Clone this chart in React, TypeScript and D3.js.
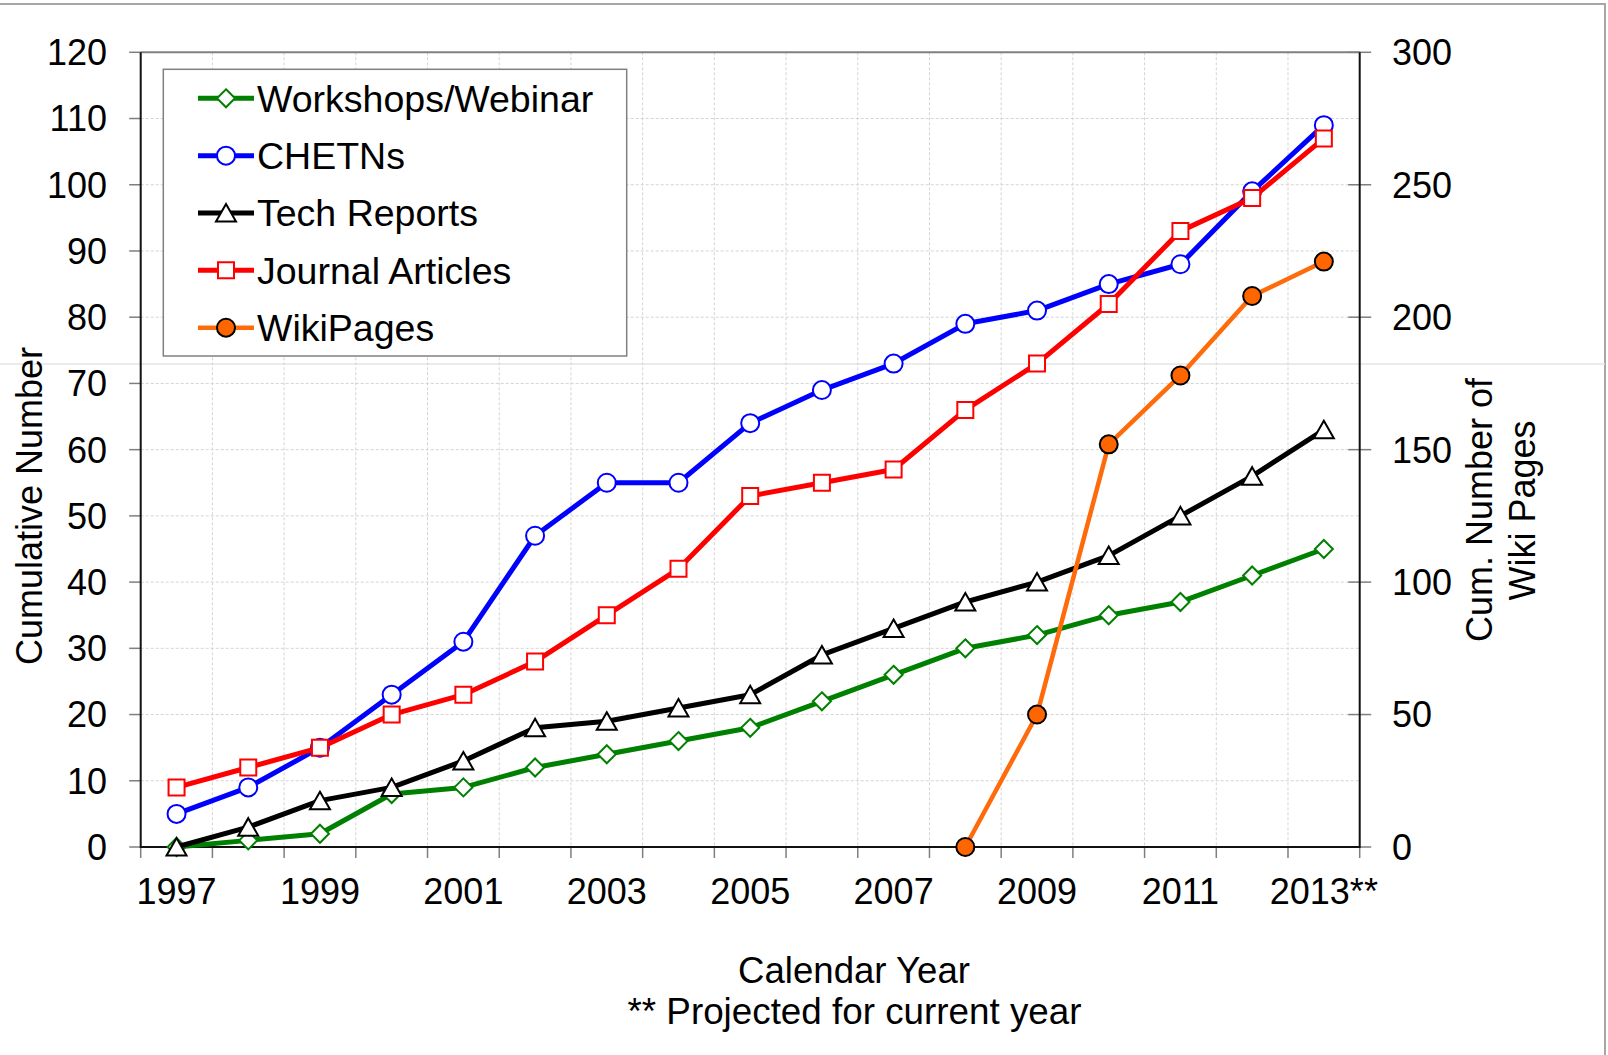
import React, { useEffect, useRef } from 'react';
import * as d3 from 'd3';

// categories (calendar years)
const years = ['1997', '1998', '1999', '2000', '2001', '2002', '2003', '2004', '2005',
  '2006', '2007', '2008', '2009', '2010', '2011', '2012', '2013'];
const labelYears = ['1997', '1999', '2001', '2003', '2005', '2007', '2009', '2011', '2013'];
const labelTexts = ['1997', '1999', '2001', '2003', '2005', '2007', '2009', '2011', '2013**'];

// left axis series
const workshops = [0, 1, 2, 8, 9, 12, 14, 16, 18, 22, 26, 30, 32, 35, 37, 41, 45];
const chetns = [5, 9, 15, 23, 31, 47, 55, 55, 64, 69, 73, 79, 81, 85, 88, 99, 109];
const techReports = [0, 3, 7, 9, 13, 18, 19, 21, 23, 29, 33, 37, 40, 44, 50, 56, 63];
const journalArticles = [9, 12, 15, 20, 23, 28, 35, 42, 53, 55, 57, 66, 73, 82, 93, 98, 107];

// right axis series
const wikiYears = ['2008', '2009', '2010', '2011', '2012', '2013'];
const wikiPages = [0, 50, 152, 178, 208, 221];

const leftTicks = [0, 10, 20, 30, 40, 50, 60, 70, 80, 90, 100, 110, 120];
const rightTicks = [0, 50, 100, 150, 200, 250, 300];

const FONT = '"Liberation Sans", Arial, sans-serif';

const App = () => {
  const ref = useRef(null);

  useEffect(() => {
    const svg = d3.select(ref.current);
    svg.selectAll('*').remove();

    const left = 140.7, right = 1359.7, top = 52.3, bottom = 847;

    const x = d3.scaleBand().domain(years).range([left, right]).padding(0);
    const cx = (d) => x(d) + x.bandwidth() / 2;
    const y = d3.scaleLinear().domain([0, 120]).range([bottom, top]);
    const y2 = d3.scaleLinear().domain([0, 300]).range([bottom, top]);

    svg.append('rect').attr('width', 1608).attr('height', 1055).attr('fill', '#fff');

    // slide frame
    svg.append('path').attr('d', 'M0,4 H1605 V1055')
      .attr('fill', 'none').attr('stroke', '#a6a6a6').attr('stroke-width', 2);
    svg.append('line').attr('x1', 0).attr('x2', 1605).attr('y1', 364).attr('y2', 364)
      .attr('stroke', '#e4e4e4').attr('stroke-width', 1.5);

    // grid
    const grid = svg.append('g').attr('stroke', '#d4d4d4').attr('stroke-width', 1)
      .attr('stroke-dasharray', '3,2');
    leftTicks.slice(1, -1).forEach(t => {
      grid.append('line').attr('x1', left).attr('x2', right).attr('y1', y(t)).attr('y2', y(t));
    });
    years.slice(1).forEach(yr => {
      grid.append('line').attr('x1', x(yr)).attr('x2', x(yr)).attr('y1', top).attr('y2', bottom);
    });

    // ticks
    const ticks = svg.append('g').attr('stroke', '#7f7f7f').attr('stroke-width', 1.5);
    leftTicks.forEach(t => {
      ticks.append('line').attr('x1', left - 11.5).attr('x2', left).attr('y1', y(t)).attr('y2', y(t));
    });
    rightTicks.forEach(t => {
      ticks.append('line').attr('x1', t === 0 ? right : right - 11.5).attr('x2', right + 11.5)
        .attr('y1', y2(t)).attr('y2', y2(t));
    });
    [...years.map(d => x(d)), right].forEach(px => {
      ticks.append('line').attr('x1', px).attr('x2', px).attr('y1', bottom).attr('y2', bottom + 11);
    });

    // plot border
    svg.append('line').attr('x1', left).attr('x2', right).attr('y1', top).attr('y2', top)
      .attr('stroke', '#808080').attr('stroke-width', 2);
    svg.append('path').attr('d', `M${left},${top} V${bottom} H${right} V${top}`)
      .attr('fill', 'none').attr('stroke', '#111').attr('stroke-width', 2);

    // tick labels
    const txt = svg.append('g').attr('font-family', FONT).attr('font-size', 36).attr('fill', '#000');
    leftTicks.forEach(t => {
      txt.append('text').attr('x', 107).attr('y', y(t) + 12.9).attr('text-anchor', 'end').text(t);
    });
    rightTicks.forEach(t => {
      txt.append('text').attr('x', 1392).attr('y', y2(t) + 12.9).text(t);
    });
    labelYears.forEach((yr, i) => {
      txt.append('text').attr('x', cx(yr)).attr('y', 904).attr('text-anchor', 'middle').text(labelTexts[i]);
    });

    // axis titles
    txt.append('text').attr('transform', 'translate(41.5,506) rotate(-90)')
      .attr('text-anchor', 'middle').text('Cumulative Number');
    txt.append('text').attr('transform', 'translate(1491.5,510) rotate(-90)')
      .attr('text-anchor', 'middle').text('Cum. Number of');
    txt.append('text').attr('transform', 'translate(1535,510.5) rotate(-90)')
      .attr('text-anchor', 'middle').text('Wiki Pages');
    txt.append('text').attr('x', 854).attr('y', 983).attr('text-anchor', 'middle')
      .attr('font-size', 36.6).text('Calendar Year');
    txt.append('text').attr('x', 854.5).attr('y', 1024).attr('text-anchor', 'middle')
      .attr('font-size', 36.8).text('** Projected for current year');

    // markers
    const shapes = {
      diamond: 'M0,-9L9,0L0,9L-9,0Z',
      triangle: 'M0,-9L10,8.5L-10,8.5Z',
      square: 'M-8,-8H8V8H-8Z',
      circle: d3.symbol(d3.symbolCircle, Math.PI * 81)(),
    };

    const series = [
      { name: 'Workshops/Webinar', cats: years, vals: workshops, sc: y, color: '#008000', fill: '#fff', mstroke: '#008000', shape: 'diamond', w: 5 },
      { name: 'CHETNs', cats: years, vals: chetns, sc: y, color: '#0000ff', fill: '#fff', mstroke: '#0000ff', shape: 'circle', w: 5 },
      { name: 'Tech Reports', cats: years, vals: techReports, sc: y, color: '#000', fill: '#fff', mstroke: '#000', shape: 'triangle', w: 5 },
      { name: 'Journal Articles', cats: years, vals: journalArticles, sc: y, color: '#ff0000', fill: '#fff', mstroke: '#ff0000', shape: 'square', w: 5 },
      { name: 'WikiPages', cats: wikiYears, vals: wikiPages, sc: y2, color: '#ff6a0a', fill: '#ff6600', mstroke: '#000', shape: 'circle', w: 4.5 },
    ];

    const line = d3.line().x(d => d[0]).y(d => d[1]);

    series.forEach(s => {
      const pts = s.cats.map((c, i) => [cx(c), s.sc(s.vals[i])]);
      const g = svg.append('g');
      g.append('path').attr('d', line(pts)).attr('fill', 'none').attr('stroke', s.color)
        .attr('stroke-width', s.w).attr('stroke-linejoin', 'round');
      pts.forEach(p => {
        g.append('path').attr('d', shapes[s.shape]).attr('transform', `translate(${p[0]},${p[1]})`)
          .attr('fill', s.fill).attr('stroke', s.mstroke).attr('stroke-width', 2);
      });
    });

    // legend
    const lg = svg.append('g');
    lg.append('rect').attr('x', 163.3).attr('y', 69.3).attr('width', 463.4).attr('height', 286.7)
      .attr('fill', '#fff').attr('stroke', '#808080').attr('stroke-width', 1.5);
    series.forEach((s, i) => {
      const ly = 98.3 + i * 57.35;
      lg.append('line').attr('x1', 198).attr('x2', 254).attr('y1', ly).attr('y2', ly)
        .attr('stroke', s.color).attr('stroke-width', s.w);
      lg.append('path').attr('d', shapes[s.shape]).attr('transform', `translate(226,${ly})`)
        .attr('fill', s.fill).attr('stroke', s.mstroke).attr('stroke-width', 2);
      lg.append('text').attr('x', 257).attr('y', ly + 13.3).attr('font-family', FONT)
        .attr('font-size', 37.5).text(s.name);
    });
  }, []);

  return (
    <div>
      <svg ref={ref} width={1608} height={1055} style={{ position: 'absolute', left: 0, top: 0 }}></svg>
    </div>
  );
};

export default App;
